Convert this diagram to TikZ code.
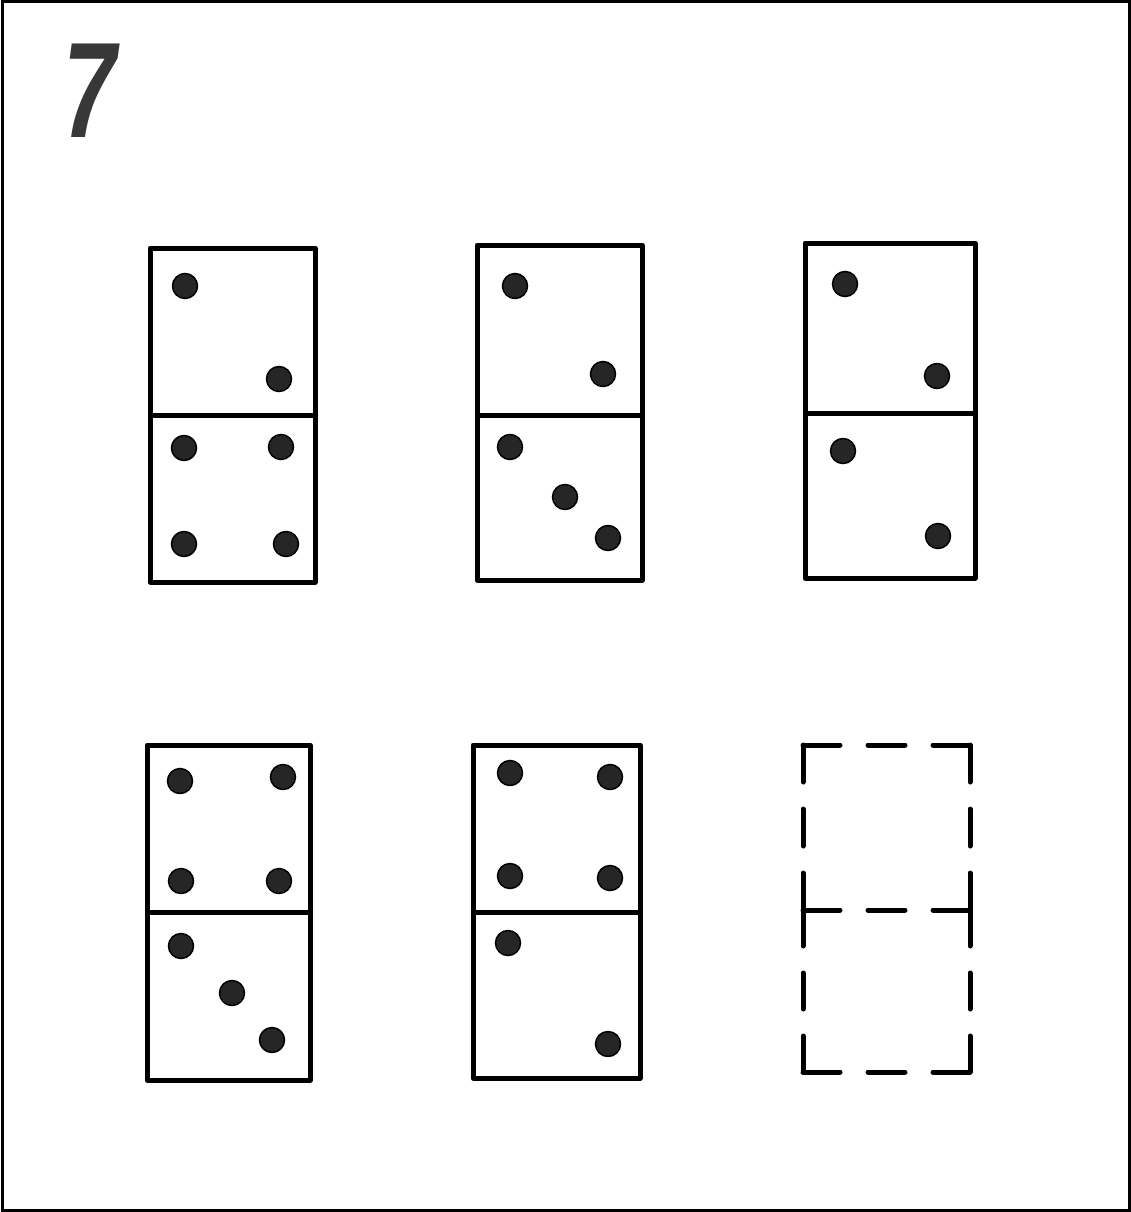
\documentclass[tikz,border=0pt]{standalone}
\usepackage{fontspec}
\setmainfont{Liberation Sans}
\begin{document}
\begin{tikzpicture}[x=1pt,y=-1pt,
  tile/.style={draw=black,line width=5pt,line join=round},
  emptyedge/.style={draw=black,line width=5pt,line cap=round,dash pattern=on 37pt off 28pt},
  pip/.style={circle,fill=black!85,draw=black,line width=1.5pt,minimum size=25pt,inner sep=0pt},
  frame/.style={draw=black,line width=3pt}]
\useasboundingbox (0,0) rectangle (1131,1212);
\draw[frame] (2,2) rectangle (1129,1210);
\node[anchor=base,inner sep=0pt,text=black!78,xscale=0.7,font=\fontsize{136}{136}\selectfont\bfseries\itshape] (num) at (90,138) {7};
% domino 1
\draw[tile] (150,248) rectangle (315,582);
\draw[tile] (150,415) -- (315,415);
\node[pip] (d1a) at (185,286) {};
\node[pip] (d1b) at (279,379) {};
\node[pip] (d1c) at (184,448) {};
\node[pip] (d1d) at (281,447) {};
\node[pip] (d1e) at (184,544) {};
\node[pip] (d1f) at (286,544) {};
% domino 2
\draw[tile] (477,245) rectangle (642,580);
\draw[tile] (477,415) -- (642,415);
\node[pip] (d2a) at (515,286) {};
\node[pip] (d2b) at (603,374) {};
\node[pip] (d2c) at (510,447) {};
\node[pip] (d2d) at (565,497) {};
\node[pip] (d2e) at (608,538) {};
% domino 3
\draw[tile] (805,243) rectangle (975,578);
\draw[tile] (805,413) -- (975,413);
\node[pip] (d3a) at (845,284) {};
\node[pip] (d3b) at (937,376) {};
\node[pip] (d3c) at (843,451) {};
\node[pip] (d3d) at (938,536) {};
% domino 4
\draw[tile] (147,745) rectangle (310,1080);
\draw[tile] (147,912) -- (310,912);
\node[pip] (d4a) at (180,781) {};
\node[pip] (d4b) at (283,777) {};
\node[pip] (d4c) at (181,881) {};
\node[pip] (d4d) at (279,881) {};
\node[pip] (d4e) at (181,946) {};
\node[pip] (d4f) at (232,993) {};
\node[pip] (d4g) at (272,1040) {};
% domino 5
\draw[tile] (473,745) rectangle (640,1078);
\draw[tile] (473,912) -- (640,912);
\node[pip] (d5a) at (510,773) {};
\node[pip] (d5b) at (610,777) {};
\node[pip] (d5c) at (510,876) {};
\node[pip] (d5d) at (610,878) {};
\node[pip] (d5e) at (508,943) {};
\node[pip] (d5f) at (608,1044) {};
% domino 6 (empty, dashed)
\coordinate (e1) at (803,745);
\coordinate (e2) at (970,745);
\coordinate (e3) at (803,910);
\coordinate (e4) at (970,910);
\coordinate (e5) at (803,1072);
\coordinate (e6) at (970,1072);
\draw[emptyedge] (e1) -- (e2);
\draw[emptyedge] (e3) -- (e4);
\draw[emptyedge] (e5) -- (e6);
\draw[emptyedge,dash pattern=on 37pt off 27pt] (e1) -- (e3);
\draw[emptyedge,dash pattern=on 37pt off 27pt] (e2) -- (e4);
\draw[emptyedge,dash pattern=on 36pt off 27pt] (e3) -- (e5);
\draw[emptyedge,dash pattern=on 36pt off 27pt] (e4) -- (e6);
\end{tikzpicture}
\end{document}
